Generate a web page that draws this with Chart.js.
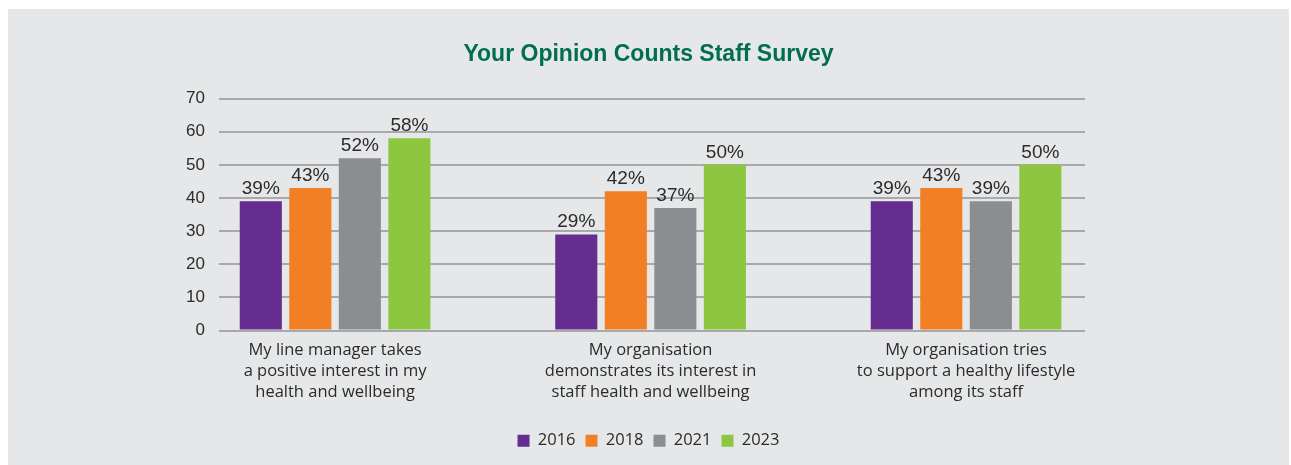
<!DOCTYPE html>
<html>
<head>
<meta charset="utf-8">
<script src="https://cdn.jsdelivr.net/npm/chart.js@4.4.0/dist/chart.umd.min.js"></script>
<style>
  html, body { margin: 0; padding: 0; background: #ffffff; }
  #box {
    position: absolute; left: 8px; top: 9px;
    width: 1281px; height: 456px;
    background: #e6e7e8;
  }
</style>
</head>
<body>
<div id="box"><canvas id="chartCanvas"></canvas></div>
<script>
"use strict";

const categories = [
    ['My line manager takes', 'a positive interest in my', 'health and wellbeing'],
    ['My organisation', 'demonstrates its interest in', 'staff health and wellbeing'],
    ['My organisation tries', 'to support a healthy lifestyle', 'among its staff']
];
const years = ['2016', '2018', '2021', '2023'];
const values2016 = [39, 29, 39];
const values2018 = [43, 42, 43];
const values2021 = [52, 37, 39];
const values2023 = [58, 50, 50];
const colours = ['#662d91', '#f37f24', '#8c8d90', '#8dc63f'];

const seriesValues = [values2016, values2018, values2021, values2023];

// value labels above every bar
const barLabels = {
    id: 'barLabels',
    afterDatasetsDraw(chart) {
        const ctx = chart.ctx;
        ctx.save();
        ctx.font = '19px "Liberation Sans", Arial, sans-serif';
        ctx.fillStyle = '#2b2b2b';
        ctx.textAlign = 'center';
        ctx.textBaseline = 'alphabetic';
        chart.data.datasets.forEach((ds, i) => {
            chart.getDatasetMeta(i).data.forEach((bar, j) => {
                ctx.fillText(ds.data[j].y + '%', bar.x, bar.y - 7);
            });
        });
        ctx.restore();
    }
};

const ctx = document.getElementById('chartCanvas').getContext('2d');
const chart = new Chart(ctx, {
    type: 'bar',
    data: {
        datasets: years.map((year, i) => ({
            label: year,
            data: seriesValues[i].map((v, j) => ({ x: j, y: v })),
            backgroundColor: colours[i],
            categoryPercentage: 0.628,
            barPercentage: 0.85
        }))
    },
    plugins: [barLabels],
    options: {
        responsive: true,
        maintainAspectRatio: false,
        animation: false,
        layout: { padding: { left: 0, right: 0, top: 0, bottom: 6 } },
        plugins: {
            tooltip: { enabled: false },
            title: {
                display: true,
                text: 'Your Opinion Counts Staff Survey',
                color: '#006f4e',
                font: { family: '"Liberation Sans", Arial, sans-serif', size: 23, weight: 'bold' },
                padding: { top: 32, bottom: 30 }
            },
            legend: {
                position: 'bottom',
                labels: {
                    color: '#2b2b2b',
                    font: { family: '"Open Sans", "Noto Sans", sans-serif', size: 16.5 },
                    boxWidth: 12,
                    boxHeight: 12,
                    padding: 10
                }
            }
        },
        scales: {
            x: {
                type: 'linear',
                offset: false,
                min: -0.368,
                max: 2.377,
                grid: { display: false },
                border: { display: false },
                afterBuildTicks: (scale) => {
                    scale.ticks = categories.map((c, i) => ({ value: i }));
                },
                afterFit: (scale) => { scale.height = 92; },
                ticks: {
                    color: '#2b2b2b',
                    font: { family: '"Open Sans", "Noto Sans", sans-serif', size: 16.5, lineHeight: 1.27 },
                    padding: 1,
                    maxRotation: 0,
                    callback: (v) => categories[v]
                }
            },
            y: {
                min: 0,
                max: 70,
                afterFit: (scale) => { scale.width = 211; },
                grid: { color: '#a7a9ac', lineWidth: 2, drawTicks: false },
                border: { display: false },
                ticks: {
                    stepSize: 10,
                    color: '#2b2b2b',
                    font: { family: '"Liberation Sans", Arial, sans-serif', size: 17 },
                    padding: 14
                }
            },
            // empty right-hand axis that keeps the plot clear of the right side
            yRight: {
                position: 'right',
                min: 0,
                max: 70,
                afterFit: (scale) => { scale.width = 204; },
                grid: { display: false },
                border: { display: false },
                ticks: { display: false }
            }
        }
    }
});
</script>
</body>
</html>
